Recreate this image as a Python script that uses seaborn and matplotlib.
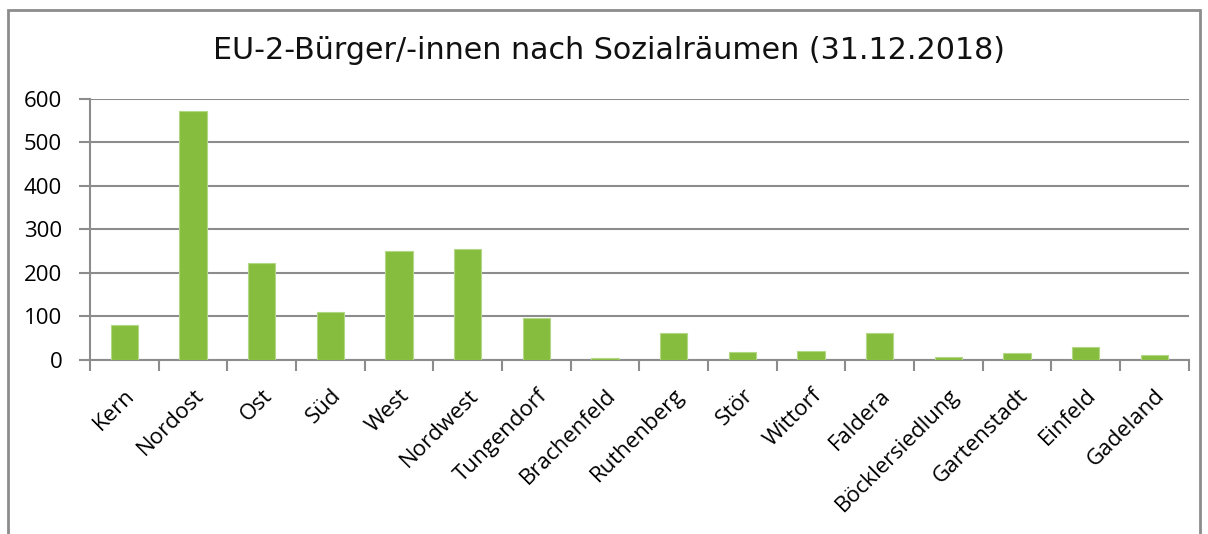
import matplotlib
matplotlib.use('Agg')
import matplotlib.pyplot as plt
import seaborn as sns
import pandas as pd
from matplotlib.patches import Rectangle

# Sozialraeume and EU-2 counts
raeume = ['Kern', 'Nordost', 'Ost', 'Süd', 'West', 'Nordwest', 'Tungendorf',
          'Brachenfeld', 'Ruthenberg', 'Stör', 'Wittorf', 'Faldera',
          'Böcklersiedlung', 'Gartenstadt', 'Einfeld', 'Gadeland']
anzahl = [80, 573, 223, 110, 250, 256, 97, 5, 63, 19, 21, 61, 7, 16, 30, 12]
y_ticks = [0, 100, 200, 300, 400, 500, 600]
title = 'EU-2-Bürger/-innen nach Sozialräumen (31.12.2018)'

df = pd.DataFrame({'raum': raeume, 'anzahl': anzahl})

sns.set_theme(style='white')
plt.rcParams['font.family'] = ['Open Sans', 'DejaVu Sans']

fig = plt.figure(figsize=(12.08, 5.34), dpi=100)
ax = fig.add_axes([0.0745, 0.326, 0.9095, 0.4886])

sns.barplot(data=df, x='raum', y='anzahl', color='#87BD3F', width=0.4,
            saturation=1, edgecolor='#b3d885', linewidth=0.8, ax=ax, zorder=3)

ax.set_ylim(0, 600)
ax.set_xlim(-0.5, len(raeume) - 0.5)
ax.set_yticks(y_ticks)
ax.set_yticklabels([str(t) for t in y_ticks], fontsize=16, color='black')
ax.yaxis.grid(True, color='#8c8c8c', linewidth=1.5, zorder=0)
ax.set_xlabel('')
ax.set_ylabel('')

# category boundaries as tick marks, labels centred on categories
ax.set_xticks([i - 0.5 for i in range(len(raeume) + 1)], minor=False)
ax.set_xticklabels([''] * (len(raeume) + 1))
ax.set_xticks(range(len(raeume)), minor=True)
ax.set_xticklabels(raeume, minor=True, rotation=45, ha='right',
                   rotation_mode='anchor', fontsize=16, color='black')
ax.tick_params(axis='x', which='major', bottom=True, length=8, width=1.5,
               color='#8c8c8c', direction='out')
ax.tick_params(axis='x', which='minor', bottom=True, length=0, pad=18)
ax.tick_params(axis='y', left=True, length=8, width=1.5, color='#8c8c8c', pad=12)

for side in ['top', 'right']:
    ax.spines[side].set_visible(False)
for side in ['left', 'bottom']:
    ax.spines[side].set_color('#8c8c8c')
    ax.spines[side].set_linewidth(1.5)

fig.text(0.504, 0.905, title, ha='center', va='center', fontsize=21.7,
         family='DejaVu Sans', color='#111111')

fig.patches.append(Rectangle((8 / 1208, -0.05), 1192 / 1208, 1 - 10 / 534 + 0.05,
                             transform=fig.transFigure, fill=False,
                             edgecolor='#8c8c8c', linewidth=2))

fig.savefig('out.png', dpi=100)
